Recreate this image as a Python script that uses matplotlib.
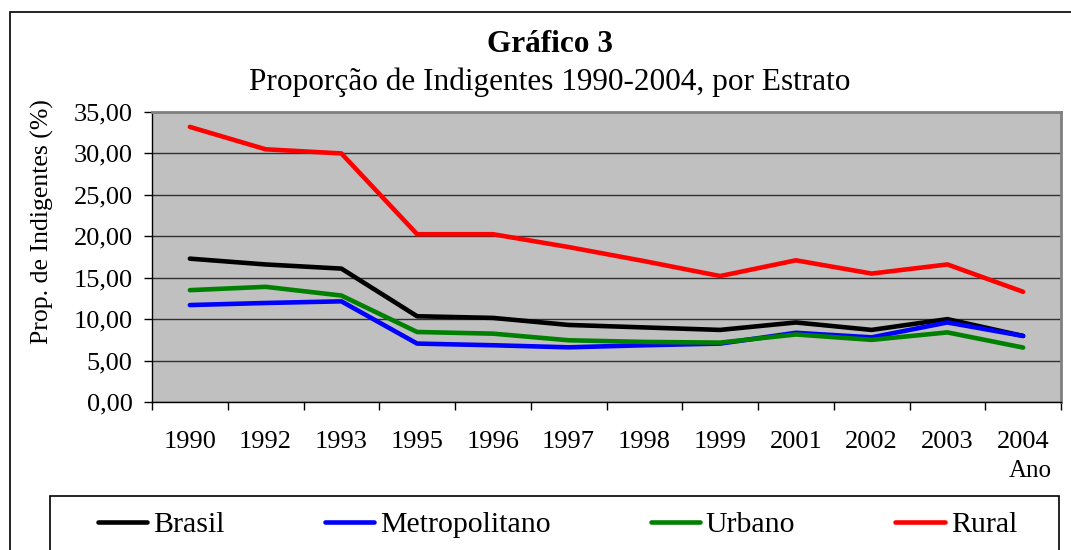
import matplotlib
matplotlib.use("Agg")
import matplotlib.pyplot as plt
from matplotlib.patches import Rectangle
from matplotlib.ticker import FuncFormatter
import numpy as np

plt.rcParams['font.family'] = ['Liberation Serif', 'DejaVu Serif']

anos = ["1990", "1992", "1993", "1995", "1996", "1997",
        "1998", "1999", "2001", "2002", "2003", "2004"]

brasil = [17.3, 16.6, 16.1, 10.35, 10.15, 9.3, 9.0, 8.7, 9.6, 8.7, 10.0, 7.97]
metropolitano = [11.7, 11.95, 12.15, 7.05, 6.85, 6.6, 6.85, 7.05, 8.35, 7.8, 9.6, 7.97]
urbano = [13.5, 13.9, 12.85, 8.45, 8.25, 7.45, 7.25, 7.17, 8.15, 7.5, 8.4, 6.57]
rural = [33.2, 30.5, 30.0, 20.25, 20.25, 18.7, 17.0, 15.2, 17.1, 15.5, 16.6, 13.3]

series = [("Brasil", brasil, "#000000"),
          ("Metropolitano", metropolitano, "#0000FF"),
          ("Urbano", urbano, "#008000"),
          ("Rural", rural, "#FF0000")]

W, H = 1071, 550
fig = plt.figure(figsize=(W / 100, H / 100), dpi=100)

# outer chart border (runs off right and bottom like the source)
fig.patches.append(Rectangle((9.5 / W, -0.1), 1.1, (H - 12.5) / H + 0.1,
                             transform=fig.transFigure, fill=False,
                             edgecolor="black", linewidth=1.2))

ax = fig.add_axes([152 / W, (H - 402) / H, (1061 - 152) / W, (402 - 112) / H])
ax.set_facecolor("#C0C0C0")

x = np.arange(len(anos))
for nome, vals, cor in series:
    ax.plot(x, vals, color=cor, linewidth=3.3, label=nome, solid_capstyle="round")

ax.set_xlim(-0.5, len(anos) - 0.5)
ax.set_ylim(0, 35)
ax.set_yticks(np.arange(0, 36, 5))
ax.yaxis.set_major_formatter(FuncFormatter(lambda v, p: f"{v:.2f}".replace(".", ",")))
ax.grid(axis="y", color="#303030", linewidth=1)
ax.set_axisbelow(True)

ax.set_xticks(x)
ax.set_xticklabels(anos)
ax.set_xticks(np.arange(-0.5, len(anos), 1), minor=True)
ax.tick_params(axis="x", which="major", length=0, pad=21, labelsize=19)
ax.tick_params(axis="x", which="minor", length=6, width=1, direction="out")
ax.tick_params(axis="y", length=6, width=1, direction="out", pad=8, labelsize=19)

for s in ["top", "right"]:
    ax.spines[s].set_color("#808080")
    ax.spines[s].set_linewidth(2)
for s in ["left", "bottom"]:
    ax.spines[s].set_color("black")
    ax.spines[s].set_linewidth(1)

fig.text(550 / W, (H - 52) / H, "Gráfico 3", ha="center", va="baseline",
         fontsize=22.5, fontweight="bold")
fig.text(549.5 / W, (H - 90) / H, "Proporção de Indigentes 1990-2004, por Estrato",
         ha="center", va="baseline", fontsize=22.5)
fig.text(42 / W, (H - 222) / H, "Prop. de Indigentes (%)", rotation=90,
         ha="center", va="center", fontsize=18.5)
fig.text(1052 / W, (H - 477) / H, "Ano", ha="right", va="baseline", fontsize=18)

# legend frame, also running off the bottom
fig.patches.append(Rectangle((50 / W, -0.1), (1059 - 50) / W, (H - 496) / H + 0.1,
                             transform=fig.transFigure, fill=False,
                             edgecolor="black", linewidth=1.2))
handles, labels = ax.get_legend_handles_labels()
fig.legend(handles, labels, ncol=4, mode="expand", frameon=False,
           loc="center left", bbox_to_anchor=(98 / W, (H - 525) / H, (1017 - 98) / W, 0),
           borderaxespad=0, borderpad=0, fontsize=21.5, handlelength=1.65,
           handletextpad=0.2)

fig.savefig("out.png", dpi=100)
